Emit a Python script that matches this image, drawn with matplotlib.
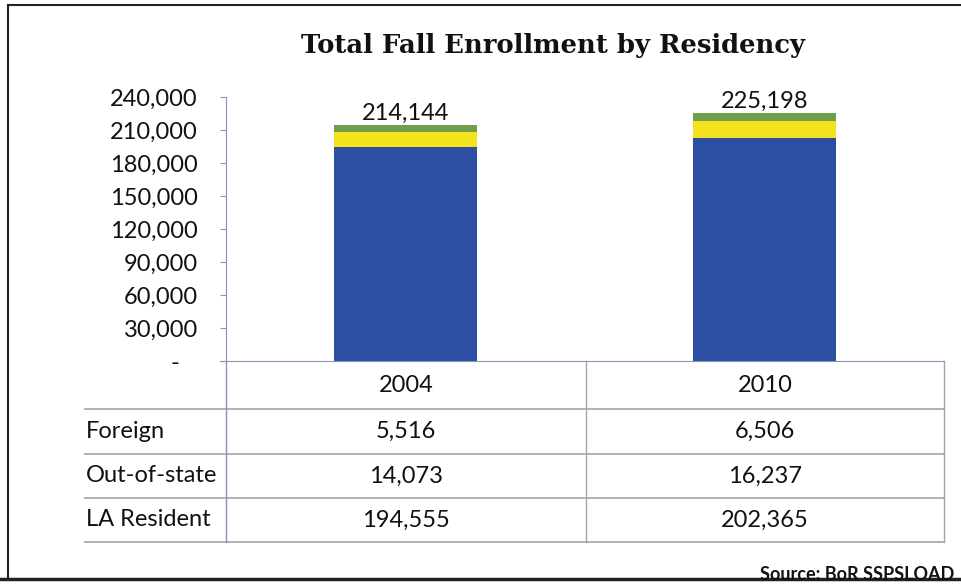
import matplotlib
matplotlib.use("Agg")
import matplotlib.pyplot as plt
from matplotlib.ticker import FuncFormatter

years = ["2004", "2010"]
series = ["Foreign", "Out-of-state", "LA Resident"]
foreign = [5516, 6506]
out_of_state = [14073, 16237]
la_resident = [194555, 202365]
totals = [214144, 225198]
y_ticks = [0, 30000, 60000, 90000, 120000, 150000, 180000, 210000, 240000]

blue = "#2C4FA3"
yellow = "#F4E21C"
green = "#6F9F4C"
axis_col = "#8C93B5"
grid_col = "#A4A4A8"
ink = "#111111"

plt.rcParams["font.family"] = ["Lato", "DejaVu Sans"]

W, H = 961, 585
fig = plt.figure(figsize=(W / 100, H / 100), dpi=100)


def fx(px):
    return px / W


def fy(py):
    return 1 - py / H


# overlay in pixel coordinates for the frame and data table
over = fig.add_axes([0, 0, 1, 1], zorder=0)
over.set_xlim(0, W)
over.set_ylim(H, 0)
over.axis("off")

# chart area
ax = fig.add_axes([fx(226), fy(361), fx(944 - 226), (361 - 97) / H], zorder=1)
ax.patch.set_alpha(0)
x = [0, 1]
width = 0.4
ax.bar(x, la_resident, width, color=blue, zorder=2)
ax.bar(x, out_of_state, width, bottom=la_resident, color=yellow, zorder=2)
base2 = [a + b for a, b in zip(la_resident, out_of_state)]
ax.bar(x, foreign, width, bottom=base2, color=green, zorder=2)

for xi, t in zip(x, totals):
    ax.annotate(f"{t:,}", (xi, t), xytext=(0, 1), textcoords="offset points",
                ha="center", va="bottom", fontsize=17, color=ink)

ax.set_xlim(-0.5, 1.5)
ax.set_ylim(0, 240000)
ax.set_yticks(y_ticks)
ax.yaxis.set_major_formatter(FuncFormatter(lambda v, p: "-   " if v == 0 else f"{int(v):,}"))
ax.tick_params(axis="y", labelsize=17, length=4.3, color=axis_col, pad=16, labelcolor=ink)
ax.set_xticks([])
for s in ["top", "right"]:
    ax.spines[s].set_visible(False)
ax.spines["left"].set_color(axis_col)
ax.spines["bottom"].set_color(axis_col)
ax.spines["bottom"].set_bounds(-0.5 - 6 / 359, 1.5)

fig.text(fx(553), fy(45), "Total Fall Enrollment by Residency", ha="center", va="center",
         fontsize=18.6, fontweight="bold", family=["DejaVu Serif"], color=ink)

# data table under the chart
row_lines = [409, 454, 498, 542]
for yl in row_lines:
    over.plot([85, 944], [yl, yl], color=grid_col, lw=1.2)
over.plot([226, 226], [361, 542], color=axis_col, lw=1)
over.plot([586, 586], [361, 542], color=grid_col, lw=1)
over.plot([944, 944], [361, 542], color=grid_col, lw=1)

col_centers = [406, 765]
for cx, yr in zip(col_centers, years):
    over.text(cx, 385, yr, ha="center", va="center", fontsize=17, color=ink)

row_centers = [431, 476, 520]
rows = [foreign, out_of_state, la_resident]
for cy, name, vals in zip(row_centers, series, rows):
    over.text(86, cy, name, ha="left", va="center", fontsize=17, color=ink)
    for cx, v in zip(col_centers, vals):
        over.text(cx, cy, f"{v:,}", ha="center", va="center", fontsize=17, color=ink)

over.text(954, 574, "Source: BoR SSPSLOAD", ha="right", va="center", fontsize=13,
          fontweight="bold", color=ink)

# outer frame
over.plot([8, 8], [5, 578], color="#222222", lw=1.5)
over.plot([8, W], [5, 5], color="#222222", lw=1.5)
over.plot([0, W], [579, 579], color="#222222", lw=2.5)

fig.savefig("out.png", dpi=100)
